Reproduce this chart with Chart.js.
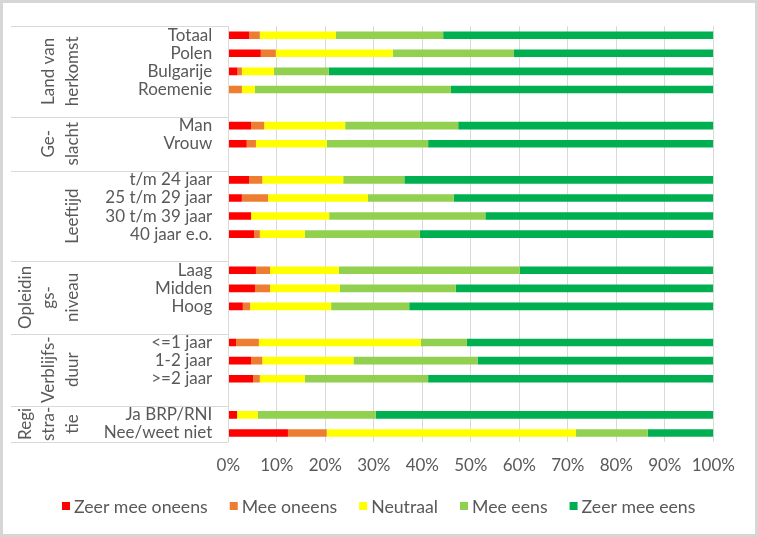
<!DOCTYPE html>
<html>
<head>
<meta charset="utf-8">
<script src="https://cdn.jsdelivr.net/npm/chart.js@4/dist/chart.umd.min.js"></script>
<style>
html,body{margin:0;padding:0;background:#fff;}
#c{display:block;}
</style>
</head>
<body>
<canvas id="c" width="758" height="537"></canvas>
<script>
const categories = ['Totaal','Polen','Bulgarije','Roemenie','',
  'Man','Vrouw','',
  't/m 24 jaar','25 t/m 29 jaar','30 t/m 39 jaar','40 jaar e.o.','',
  'Laag','Midden','Hoog','',
  '<=1 jaar','1-2 jaar','>=2 jaar','',
  'Ja BRP/RNI','Nee/weet niet'];

const groupLabels = [['Land van','herkomst'],['Ge-','slacht'],['Leeftijd'],['Opleidin','gs-','niveau'],['Verblijfs-','duur'],['Regi','stra-','tie']];
const groupSizes = [5,3,5,4,4,2];

const seriesNames = ['Zeer mee oneens','Mee oneens','Neutraal','Mee eens','Zeer mee eens'];
const zeerMeeOneens = [4.3,6.7,1.9,0,null, 4.7,3.8,null, 4.3,2.8,4.7,5.3,null, 5.7,5.5,3.0,null, 1.6,4.7,5.1,null, 1.8,12.3];
const meeOneens     = [2.2,3.1,0.9,2.8,null, 2.7,1.9,null, 2.7,5.4,0,1.2,null, 2.9,3.1,1.5,null, 4.7,2.3,1.4,null, 0,8.0];
const neutraal      = [15.7,24.1,6.6,2.7,null, 16.7,14.6,null, 16.7,20.6,16.1,9.3,null, 14.2,14.4,16.7,null, 33.4,18.8,9.3,null, 4.3,51.4];
const meeEens       = [22.1,25.0,11.3,40.4,null, 23.3,20.9,null, 12.6,17.7,32.2,23.7,null, 37.3,23.9,16.1,null, 9.5,25.6,25.4,null, 24.3,14.8];
const zeerMeeEens   = [55.7,41.1,79.3,54.1,null, 52.6,58.8,null, 63.7,53.5,47.0,60.5,null, 39.9,53.1,62.7,null, 50.8,48.6,58.8,null, 69.6,13.5];
const xTicks = [0,10,20,30,40,50,60,70,80,90,100];

const colors = ['#FF0000','#ED7D31','#FFFF00','#92D050','#00B050'];
const seriesValues = [zeerMeeOneens, meeOneens, neutraal, meeEens, zeerMeeEens];

const FONT = 'Lato';
const TXT = '#595959';
const LINE = '#d9d9d9';

const decorPlugin = {
  id: 'decor',
  beforeDraw(chart) {
    const ctx = chart.ctx;
    ctx.save();
    ctx.fillStyle = '#fff';
    ctx.fillRect(0, 0, chart.width, chart.height);
    ctx.restore();
  },
  afterDraw(chart) {
    const ctx = chart.ctx;
    const area = chart.chartArea;
    const y = chart.scales.y;
    const step = (y.getPixelForValue(1) - y.getPixelForValue(0));
    ctx.save();
    // axis line
    ctx.strokeStyle = LINE;
    ctx.lineWidth = 1;
    ctx.beginPath();
    ctx.moveTo(Math.round(area.left) + 0.5, area.top);
    ctx.lineTo(Math.round(area.left) + 0.5, area.bottom);
    ctx.stroke();
    // group separators and labels
    let idx = 0;
    const bounds = [area.top];
    groupSizes.forEach(n => { idx += n; bounds.push(y.getPixelForValue(idx - 1) + step / 2); });
    bounds.forEach(b => {
      const yy = Math.round(b) + 0.5;
      ctx.beginPath();
      ctx.moveTo(11, yy);
      ctx.lineTo(area.left, yy);
      ctx.stroke();
    });
    ctx.fillStyle = TXT;
    ctx.font = '17px ' + FONT;
    ctx.textAlign = 'center';
    ctx.textBaseline = 'middle';
    groupLabels.forEach((lines, g) => {
      const cy = (bounds[g] + bounds[g + 1]) / 2;
      lines.forEach((ln, i) => {
        const cx = area.left - 156 - 23.5 * (lines.length - 1 - i);
        ctx.save();
        ctx.translate(cx, cy);
        ctx.rotate(-Math.PI / 2);
        ctx.fillText(ln, 0, 0);
        ctx.restore();
      });
    });
    // legend
    ctx.font = '17.7px ' + FONT;
    ctx.textAlign = 'left';
    ctx.textBaseline = 'middle';
    const ly = 506;
    let lx = 62;
    chart.data.datasets.forEach(ds => {
      ctx.fillStyle = ds.backgroundColor;
      ctx.fillRect(lx, ly - 4, 8, 8);
      ctx.fillStyle = TXT;
      ctx.fillText(ds.label, lx + 12, ly + 1);
      lx += 12 + ctx.measureText(ds.label).width + 22;
    });
    // outer frame
    ctx.strokeStyle = '#d6d6d6';
    ctx.lineWidth = 3;
    ctx.strokeRect(1.5, 1.5, chart.width - 3, chart.height - 3);
    ctx.restore();
  }
};

function build() {
  Chart.defaults.font.family = FONT;
  Chart.defaults.font.size = 17;
  Chart.defaults.color = TXT;
  new Chart(document.getElementById('c'), {
    type: 'bar',
    data: {
      labels: categories,
      datasets: seriesNames.map((n, i) => ({
        label: n,
        data: seriesValues[i],
        backgroundColor: colors[i],
        borderWidth: 0,
        barPercentage: 0.42,
        categoryPercentage: 1
      }))
    },
    options: {
      indexAxis: 'y',
      responsive: false,
      animation: false,
      devicePixelRatio: 1,
      layout: { padding: { left: 39, right: 44.7, top: 24, bottom: 62.5 } },
      scales: {
        x: {
          stacked: true,
          min: 0, max: 100,
          afterBuildTicks(scale) { scale.ticks = xTicks.map(v => ({ value: v })); },
          afterFit(scale) { scale.height = 32.5; },
          ticks: { padding: 13, maxRotation: 0, callback: v => v + '%', color: TXT },
          grid: { color: LINE, drawTicks: false },
          border: { display: false }
        },
        y: {
          stacked: true,
          afterFit(scale) { scale.width = 189.3; },
          ticks: { autoSkip: false, padding: 16, color: TXT },
          grid: { display: false, drawTicks: false },
          border: { display: false }
        }
      },
      plugins: {
        tooltip: { enabled: false },
        legend: { display: false }
      }
    },
    plugins: [decorPlugin]
  });
}

if (document.fonts && document.fonts.load) {
  document.fonts.load('17px ' + FONT).then(build, build);
} else { build(); }
</script>
</body>
</html>
